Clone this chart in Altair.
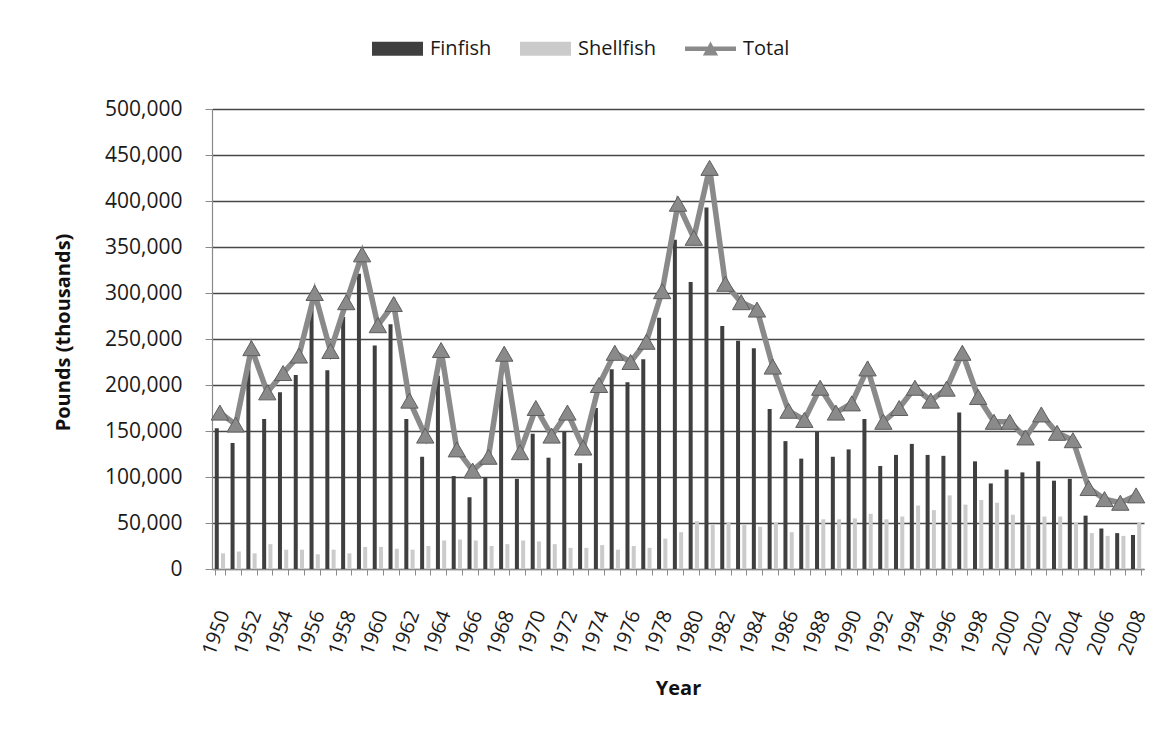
import altair as alt
import pandas as pd

years = list(range(1950, 2009))

finfish = [153, 137, 223, 163, 192, 211, 285, 216, 274, 321,
           243, 266, 163, 122, 210, 101, 78, 100, 208, 98,
           147, 121, 149, 115, 175, 217, 203, 228, 273, 358,
           312, 393, 264, 248, 240, 174, 139, 120, 149, 122,
           130, 163, 112, 124, 136, 124, 123, 170, 117, 93,
           108, 105, 117, 96, 98, 58, 44, 39, 37]

shellfish = [17, 19, 17, 27, 21, 21, 16, 21, 17, 24,
             24, 22, 21, 25, 31, 32, 31, 25, 27, 31,
             30, 27, 23, 23, 26, 21, 25, 23, 33, 40,
             52, 48, 51, 48, 46, 50, 40, 48, 54, 54,
             55, 60, 54, 57, 69, 64, 80, 70, 75, 72,
             59, 48, 57, 57, 50, 39, 36, 36, 50]

total = [170, 157, 240, 192, 213, 232, 300, 237, 290, 342,
         265, 288, 183, 145, 238, 130, 107, 122, 234, 127,
         175, 145, 170, 132, 200, 235, 225, 247, 302, 397,
         360, 436, 310, 290, 282, 220, 172, 162, 197, 170,
         180, 218, 160, 175, 197, 183, 196, 235, 187, 160,
         160, 143, 168, 148, 140, 88, 76, 72, 80]

series_names = ["Finfish", "Shellfish", "Total"]
series_colors = ["#3f3f3f", "#cbcbcb", "#8a8a8a"]
y_ticks = [0, 50000, 100000, 150000, 200000, 250000, 300000, 350000, 400000, 450000, 500000]

rect_path = "M-1,-0.27H1V0.27H-1Z"
total_path = "M-1,-0.09H1V0.09H-1Z M-0.3,0.26L0,-0.28L0.3,0.26Z"

bars_df = pd.DataFrame({
    "Year": years + years,
    "Series": ["Finfish"] * len(years) + ["Shellfish"] * len(years),
    "Value": [v * 1000 for v in finfish + shellfish],
})
total_df = pd.DataFrame({
    "Year": years,
    "Series": ["Total"] * len(years),
    "Value": [v * 1000 for v in total],
})

FONT = "Open Sans"

color_scale = alt.Scale(domain=series_names, range=series_colors)

x_enc = alt.X(
    "Year:O",
    title="Year",
    scale=alt.Scale(paddingInner=0.35, paddingOuter=0.175),
    axis=alt.Axis(
        labelExpr="datum.value % 2 == 0 ? datum.label : ''",
        labelAngle=290,
        labelAlign="right",
        labelBaseline="middle",
        labelFont=FONT,
        labelFontSize=20,
        labelColor="#1a1a1a",
        labelPadding=36,
        labelOffset=4,
        labelOverlap=False,
        tickBand="extent",
        tickSize=6,
        tickColor="#8a8a8a",
        domainColor="#8a8a8a",
        domainWidth=1.2,
        grid=False,
        titleFont=FONT,
        titleFontSize=20,
        titleFontWeight="bold",
        titleColor="#111111",
        titleX=466,
        titleY=119,
        titleBaseline="middle",
        titleAlign="center",
    ),
)

y_enc = alt.Y(
    "Value:Q",
    title="Pounds (thousands)",
    scale=alt.Scale(domain=[0, 500000]),
    axis=alt.Axis(
        values=y_ticks,
        format=",.0f",
        labelFont=FONT,
        labelFontSize=21,
        labelColor="#1a1a1a",
        labelPadding=23,
        tickSize=7,
        tickColor="#8a8a8a",
        domainColor="#8a8a8a",
        domainWidth=1.2,
        grid=True,
        gridColor="#474747",
        gridWidth=1.3,
        titleFont=FONT,
        titleFontSize=20,
        titleFontWeight="bold",
        titleColor="#111111",
        titleAngle=270,
        titleX=-149,
        titleY=223,
        titleBaseline="middle",
        titleAlign="center",
    ),
)

bars = alt.Chart(bars_df).mark_bar().encode(
    x=x_enc,
    xOffset=alt.XOffset(
        "Series:N",
        scale=alt.Scale(domain=["Finfish", "Shellfish"], paddingInner=0.36),
    ),
    y=y_enc,
    color=alt.Color("Series:N", scale=color_scale, title=None),
)

line = alt.Chart(total_df).mark_line(strokeWidth=5.5, color="#8a8a8a").encode(
    x=x_enc,
    y=y_enc,
)

markers = alt.Chart(total_df).mark_point(
    shape="triangle-up", filled=True, size=300, fill="#8a8a8a",
    stroke="#5e5e5e", strokeWidth=1, opacity=1,
).encode(
    x=x_enc,
    y=y_enc,
)

legend_layer = alt.Chart(total_df).mark_point(filled=True, opacity=0).encode(
    x=x_enc,
    y=y_enc,
    color=alt.Color("Series:N", scale=color_scale, title=None),
    shape=alt.Shape(
        "Series:N",
        scale=alt.Scale(domain=series_names, range=[rect_path, rect_path, total_path]),
        title=None,
    ),
)

chart = (
    alt.layer(bars, line, markers, legend_layer)
    .properties(
        width=932,
        height=460,
        autosize=alt.AutoSizeParams(type="none"),
        padding={"left": 204, "top": 101, "right": 10, "bottom": 150},
    )
    .configure_view(stroke=None)
    .configure_legend(
        orient="none",
        legendX=160,
        legendY=-86,
        direction="horizontal",
        symbolSize=2601,
        symbolOpacity=1,
        symbolStrokeWidth=0,
        labelFont=FONT,
        labelFontSize=20,
        labelColor="#1a1a1a",
        labelOffset=7,
        columnPadding=28,
        padding=0,
    )
)

chart.save("out.html", embed_options={"renderer": "svg", "actions": False})
